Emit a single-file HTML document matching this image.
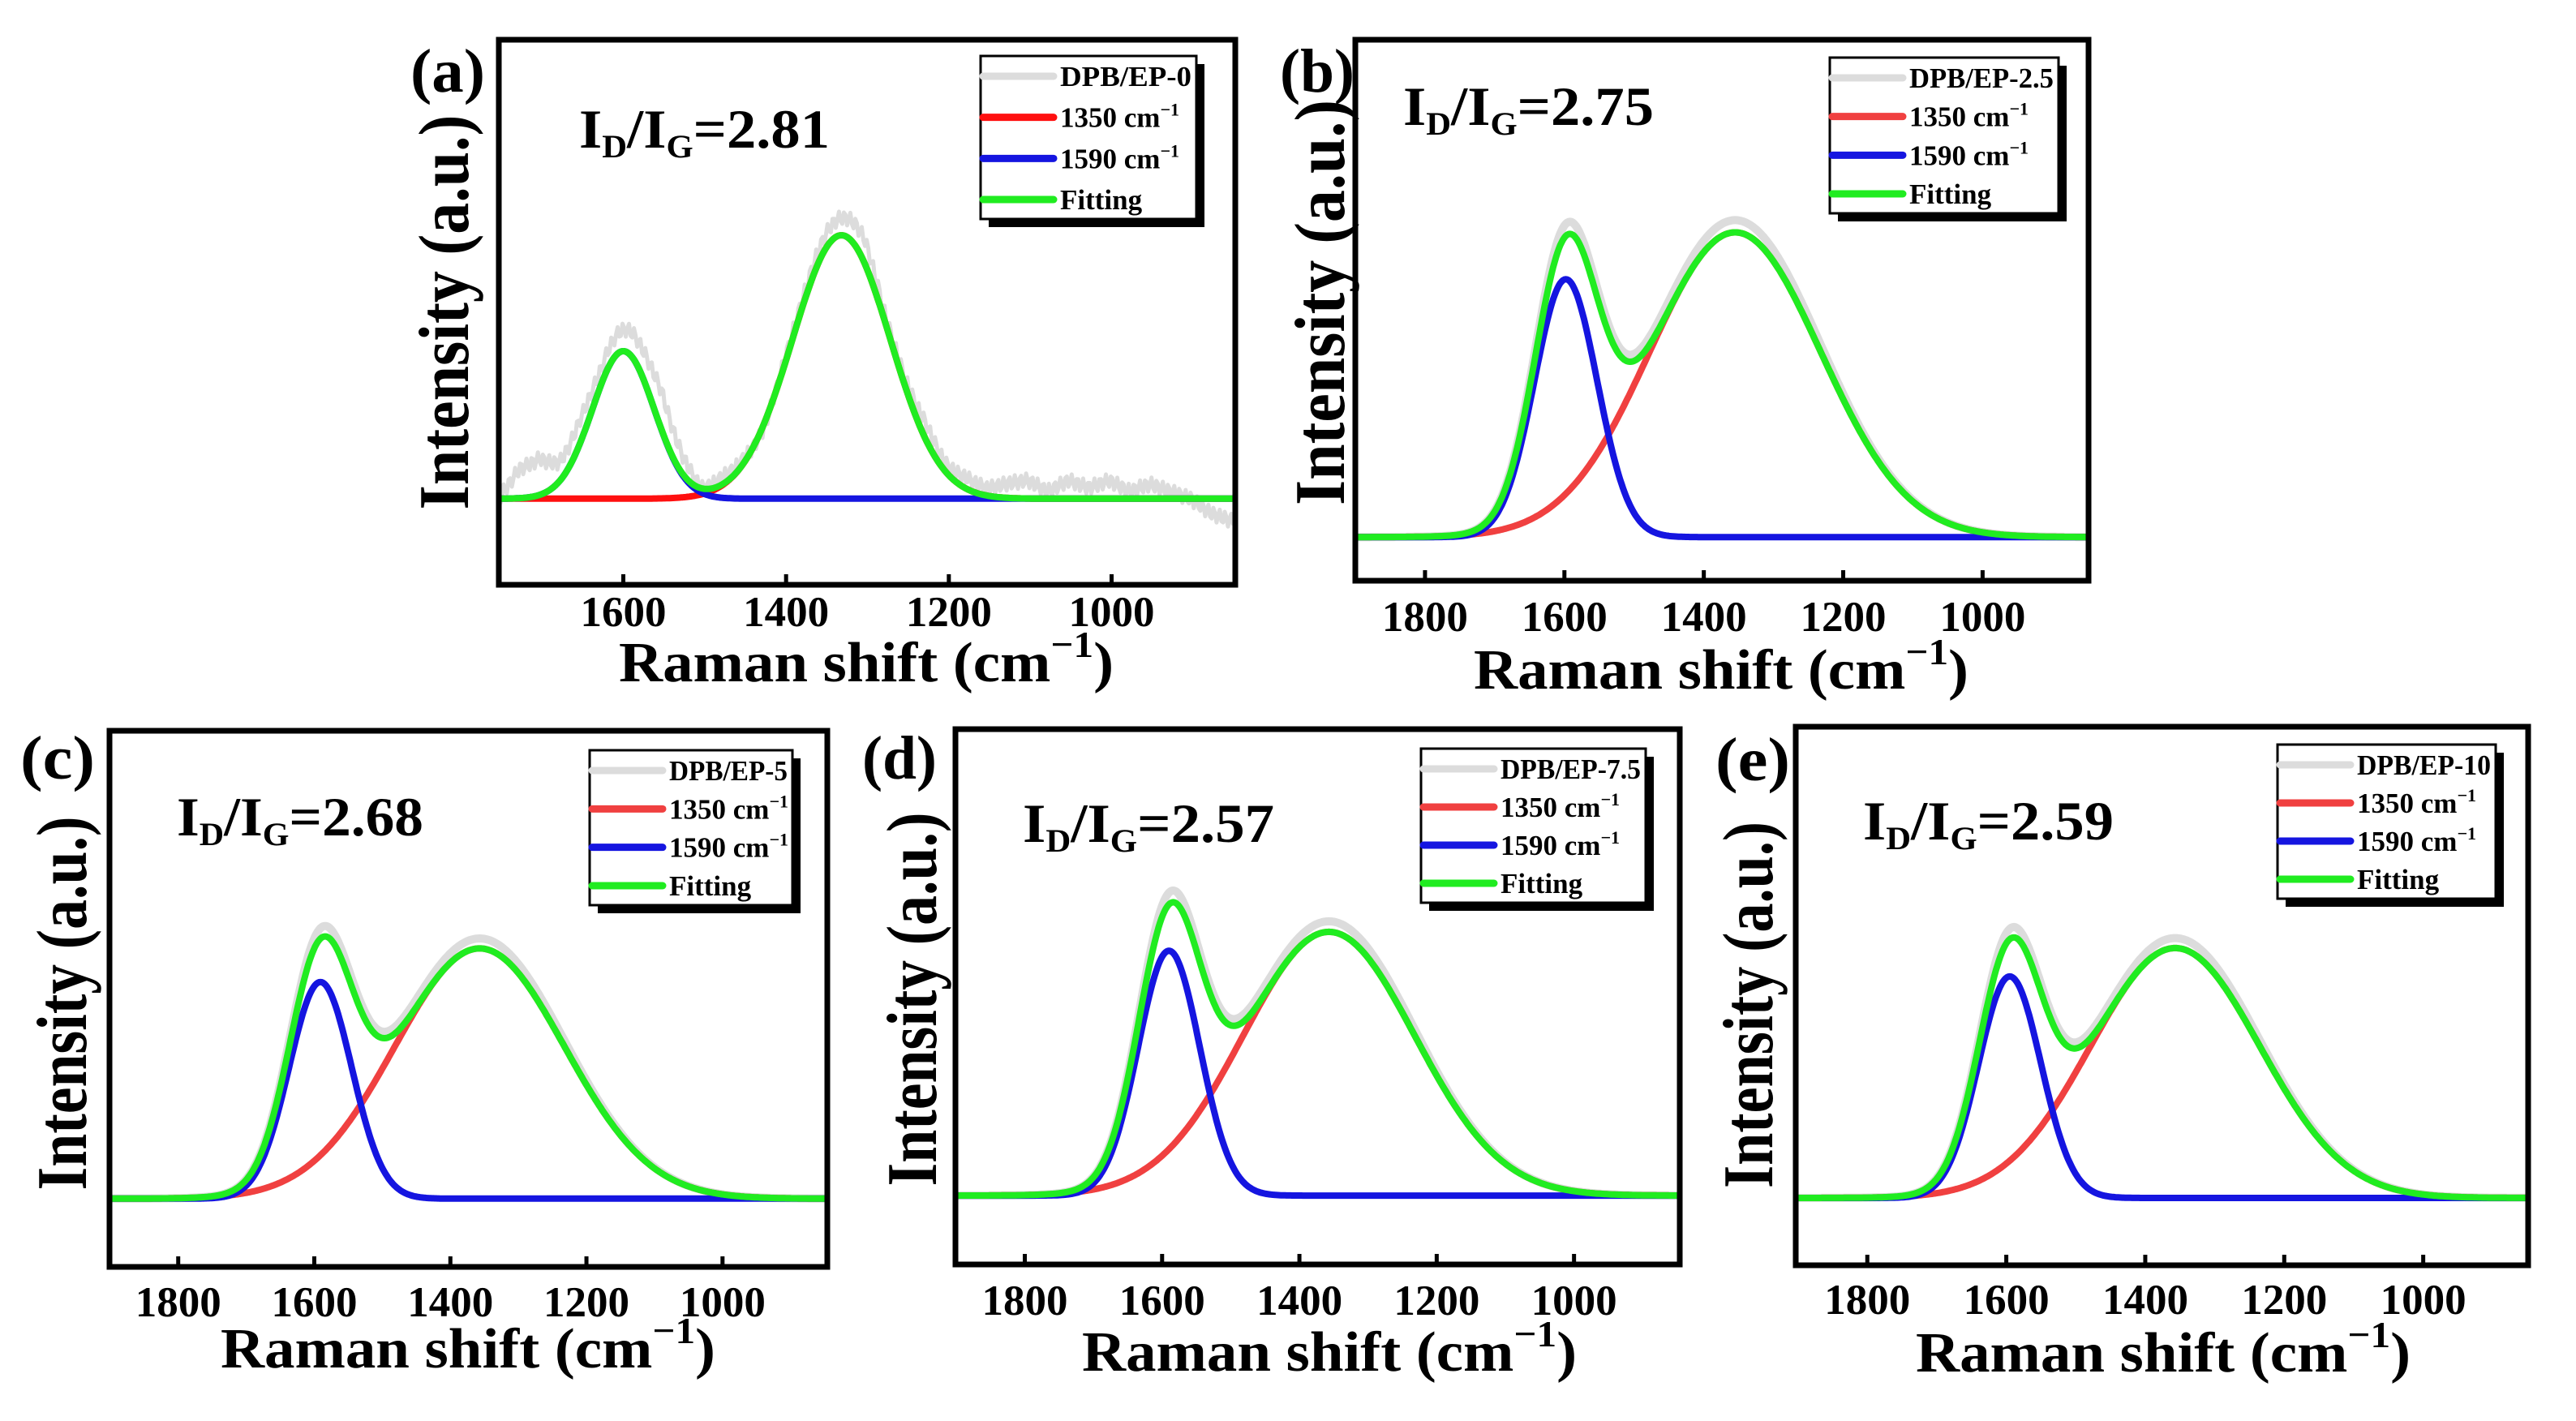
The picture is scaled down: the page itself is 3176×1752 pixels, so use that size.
<!DOCTYPE html>
<html><head><meta charset="utf-8"><style>
html,body{margin:0;padding:0;background:#fff;}
svg{display:block;}
text{font-family:"Liberation Serif",serif;font-weight:bold;fill:#000;}
</style></head><body>
<svg id="fig" width="3176" height="1752" viewBox="0 0 3176 1752" xmlns="http://www.w3.org/2000/svg"></svg>
<script>
// ---- data ----
const panelLetters = ['a','b','c','d','e'];
const sampleNames = ['DPB/EP-0','DPB/EP-2.5','DPB/EP-5','DPB/EP-7.5','DPB/EP-10'];
const ratioLabels = ['2.81','2.75','2.68','2.57','2.59'];
const dCenters = [1332, 1355, 1357, 1357, 1357];
const dHeights = [0.725, 0.845, 0.70, 0.739, 0.696];
const dSigmas = [60, 123, 125, 125, 122];
const gCenters = [1600, 1598, 1591, 1590, 1595];
const gHeights = [0.406, 0.715, 0.606, 0.686, 0.617];
const gSigmas = [38, 45, 46, 45, 45];
const tickValuesA = [1600, 1400, 1200, 1000];
const tickValues = [1800, 1600, 1400, 1200, 1000];
const rawNoiseA = [0.0,0.08,0.1,0.05,0.06,0.03,0.04,0.06,0.1,0.05,0.0,0.02,0.01,-0.02,0.0,0.0,0.01,0.02,0.04,0.0,0.01,0.04,0.02,0.03,0.02,0.04,0.05,0.02,0.05,0.03,0.05,0.02,0.04,0.02,0.0,-0.04,-0.06,-0.02];

// ---- layout ----
const layout = [
 {fx0:615,fx1:1523,fy0:49,fy1:721,xd:[1753,848],yd:[-0.237,1.263],ticks:tickValuesA,tly:772,xl:[1068,840],yl:[547,385,487],ll:[506,113],id:[714,182,309],lg:[1209,1475,69,270]},
 {fx0:1671,fx1:2575,fy0:49,fy1:716,xd:[1900,848],yd:[-0.121,1.379],ticks:tickValues,tly:778,xl:[2122,849],yl:[1627,373,500],ll:[1578,113],id:[1730,154,309],lg:[2256,2538,71,263]},
 {fx0:135,fx1:1020,fy0:901,fy1:1562,xd:[1901,846],yd:[-0.191,1.309],ticks:tickValues,tly:1623,xl:[577,1686],yl:[76,1237,461],ll:[25,960],id:[218,1030,304],lg:[727,977,925,1116]},
 {fx0:1178,fx1:2071,fy0:899,fy1:1559,xd:[1901,846],yd:[-0.193,1.307],ticks:tickValues,tly:1621,xl:[1639,1690],yl:[1124,1232,461],ll:[1063,960],id:[1261,1038,310],lg:[1752,2029,923,1113]},
 {fx0:2214,fx1:3117,fy0:896,fy1:1560,xd:[1903,849],yd:[-0.1875,1.3125],ticks:tickValues,tly:1620,xl:[2667,1691],yl:[2155,1239,452],ll:[2115,962],id:[2297,1035,309],lg:[2808,3077,918,1108]}
];
const NS='http://www.w3.org/2000/svg';
const svg=document.getElementById('fig');
function mk(tag,attrs,parent){const e=document.createElementNS(NS,tag);for(const k in attrs)e.setAttribute(k,attrs[k]);(parent||svg).appendChild(e);return e;}
function gauss(x,c,h,s){return h*Math.exp(-0.5*((x-c)/s)*((x-c)/s));}

layout.forEach((L,i)=>{
  const g=mk('g',{});
  
  
  const X=v=>L.fx0+(v-L.xd[0])/(L.xd[1]-L.xd[0])*(L.fx1-L.fx0);
  const Y=v=>L.fy1-(v-L.yd[0])/(L.yd[1]-L.yd[0])*(L.fy1-L.fy0);
  const clipId='clip'+i;
  const cp=mk('clipPath',{id:clipId},g);
  mk('rect',{x:L.fx0,y:L.fy0,width:L.fx1-L.fx0,height:L.fy1-L.fy0},cp);
  const plot=mk('g',{'clip-path':'url(#'+clipId+')'},g);
  const xs=[];for(let v=L.xd[0];v>=L.xd[1]-1;v-=2)xs.push(v);
  const D=v=>gauss(v,dCenters[i],dHeights[i],dSigmas[i]);
  const G=v=>gauss(v,gCenters[i],gHeights[i],gSigmas[i]);
  // raw (gray)
  let raw='';
  xs.forEach((v,k)=>{let f=(D(v)+G(v))*1.04;
    if(i===0){const t=(L.xd[0]-v)/25;const j=Math.floor(t);const a=rawNoiseA[Math.min(j,rawNoiseA.length-1)]||0;const b=rawNoiseA[Math.min(j+1,rawNoiseA.length-1)]||0;f+=a+(b-a)*(t-j)+0.02*Math.sin(v*0.9);}
    raw+=(k?'L':'M')+X(v).toFixed(1)+' '+Y(f).toFixed(1);});
  const rp=mk('path',{d:raw,fill:'none',stroke:'#dcdcdc','stroke-width':i===0?5:10,'stroke-linejoin':'round'},plot);
  
  
  const series=[['d-band-peak',D,i===0?'#ff1010':'#f04040'],['g-band-peak',G,'#1515e0'],['fitting-curve',v=>D(v)+G(v),'#20ec20']];
  series.forEach(s=>{let d='';xs.forEach((v,k)=>{d+=(k?'L':'M')+X(v).toFixed(1)+' '+Y(s[1](v)).toFixed(1);});
    const p=mk('path',{d:d,fill:'none',stroke:s[2],'stroke-width':8,'stroke-linejoin':'round'},plot);
    
    });
  // frame
  const fr=mk('rect',{x:L.fx0,y:L.fy0,width:L.fx1-L.fx0,height:L.fy1-L.fy0,fill:'none',stroke:'#000','stroke-width':7},g);
  
  
  // ticks
  L.ticks.forEach(t=>{
    const tm=mk('line',{x1:X(t),x2:X(t),y1:L.fy1,y2:L.fy1-13,stroke:'#000','stroke-width':5},g);
    
    
    const tl=mk('text',{x:X(t),y:L.tly,'font-size':53,'text-anchor':'middle'},g);
    tl.textContent=t;
    
    
  });
  // x label
  const xl=mk('text',{x:L.xl[0],y:L.xl[1],'font-size':70,'text-anchor':'middle',textLength:610,lengthAdjust:'spacingAndGlyphs'},g);
  xl.innerHTML='Raman shift (cm<tspan font-size="46" dy="-30">−1</tspan><tspan dy="30">)</tspan>';
  
  
  // y label
  const yl=mk('text',{x:0,y:0,'font-size':88,'text-anchor':'middle',textLength:L.yl[2],lengthAdjust:'spacingAndGlyphs',transform:'translate('+(L.yl[0]+30)+','+L.yl[1]+') rotate(-90)'},g);
  yl.textContent='Intensity (a.u.)';
  
  
  // panel letter
  const pl=mk('text',{x:L.ll[0],y:L.ll[1],'font-size':76,textLength:92,lengthAdjust:'spacingAndGlyphs'},g);
  pl.textContent='('+panelLetters[i]+')';
  
  
  // ratio
  const id=mk('text',{x:L.id[0],y:L.id[1],'font-size':68,textLength:L.id[2],lengthAdjust:'spacingAndGlyphs'},g);
  id.innerHTML='I<tspan font-size="40" dy="12">D</tspan><tspan dy="-12">/I</tspan><tspan font-size="40" dy="12">G</tspan><tspan dy="-12">='+ratioLabels[i]+'</tspan>';
  
  
  // legend
  const lg=mk('g',{},g);
  
  
  const [x0,x1,y0,y1]=L.lg;
  mk('rect',{x:x0+10,y:y0+10,width:x1-x0,height:y1-y0,fill:'#000'},lg);
  mk('rect',{x:x0,y:y0,width:x1-x0,height:y1-y0,fill:'#fff',stroke:'#000','stroke-width':3},lg);
  const cols=['#dcdcdc',i===0?'#ff1010':'#f04040','#1515e0','#20ec20'];
  const labs=[sampleNames[i],'1350 cm<tspan font-size="22" dy="-14">−1</tspan>','1590 cm<tspan font-size="22" dy="-14">−1</tspan>','Fitting'];
  const step=(y1-y0-49)/3;
  for(let r=0;r<4;r++){
    const ry=y0+25+r*step;
    const le=mk('g',{},lg);
    
    
    mk('line',{x1:x0+3,x2:x0+90,y1:ry,y2:ry,stroke:cols[r],'stroke-width':9,'stroke-linecap':'round'},le);
    const t=mk('text',{x:x0+98,y:ry+12,'font-size':35},le);
    if(r===0){t.setAttribute('textLength',x1-x0-104);t.setAttribute('lengthAdjust','spacingAndGlyphs');}
    t.innerHTML=labs[r];
  }
});
</script>
</body></html>
